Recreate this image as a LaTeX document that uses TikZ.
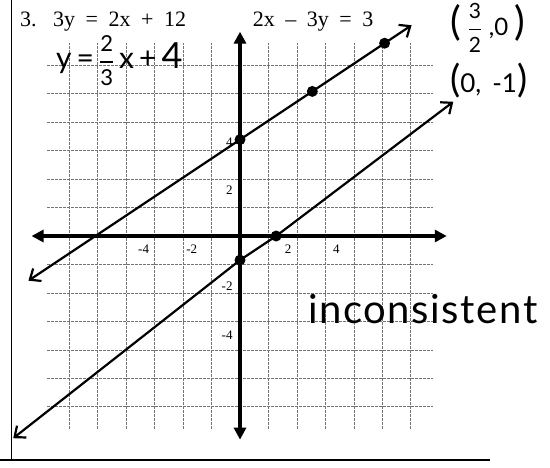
\documentclass[tikz,border=0pt]{standalone}
\usepackage{fontspec}
\setmainfont{Liberation Serif}
\newfontfamily\handfont{Lato}
\usetikzlibrary{arrows.meta}
\newcommand{\hw}[1]{\handfont\fontsize{#1}{#1}\selectfont}
\newcommand{\widesp}{\spaceskip=10.5pt\relax}

\begin{document}
\begin{tikzpicture}[x=24.1pt, y=24.1pt,
    gridline/.style={black!55, line width=0.6pt, dash pattern=on 2.5pt off 1.5pt},
    axisline/.style={line width=3.6pt, {Triangle[length=12pt,width=12pt]}-{Triangle[length=12pt,width=12pt]}},
    graphline/.style={line width=2.2pt, {Straight Barb[length=9pt,width=15pt]}-{Straight Barb[length=9pt,width=15pt]}},
    dot/.style={circle, fill, inner sep=0pt, minimum size=11pt},
    tick/.style={font=\fontsize{13}{13}\selectfont, inner sep=0pt},
    eqn/.style={font=\fontsize{22}{24}\selectfont, inner sep=0pt, anchor=base west},
    hand/.style={inner sep=0pt}]
      \useasboundingbox (-9.959,-9.585) rectangle (12.863,9.793);
      \draw[line width=1.2pt] (-9.473,9.793) -- (-9.473,-9.295);
      \draw[line width=2pt] (-9.959,-9.295) -- (10.373,-9.295);
      \draw[gridline] (-8,-8) grid (8,8);
      \coordinate (xl) at (-8.65,0);
      \coordinate (xr) at (8.58,0);
      \coordinate (yb) at (0,-8.45);
      \coordinate (yt) at (0,8.48);
      \draw[axisline] (xl) -- (xr);
      \draw[axisline] (yb) -- (yt);
      \foreach \v in {-4,-2,2,4} {
        \node[tick] (tx\v) at (\v,-0.54) {\v};
        \node[tick, anchor=east] (ty\v) at (-0.3,\v-0.1) {\v};
      }
      \node[dot] (A) at (0,4) {};
      \node[dot] (B) at (3,6) {};
      \node[dot] (C) at (6,8) {};
      \node[dot] (D) at (0,-1) {};
      \node[dot] (E) at (1.5,0) {};
      \coordinate (L1a) at (-8.78,-1.853);
      \coordinate (L1b) at (7.12,8.747);
      \coordinate (L2a) at (-9.41,-8.39);
      \coordinate (L2b) at (8.85,5.57);
      \draw[graphline] (L1a) -- (A.center) -- (B.center) -- (C.center) -- (L1b);
      \draw[graphline] (L2a) -- (D.center) -- (E.center) -- (L2b);
      \node[eqn] (T1) at (-9.129,8.685) {\widesp 3.\hspace{16.5pt}3y = 2x + 12};
      \node[eqn] (T2) at (0.527,8.685) {\widesp 2x -- 3y = 3};
      \node[hand, anchor=base west] (H) at (-7.635,6.971)
        {\hw{30}y\,=\,$\displaystyle{\hbox{\hw{22}2}\above1.5pt\hbox{\hw{22}3}}$\,x\,+\,{\hw{36}4}};
      \node[hand, anchor=west] (P1) at (8.714,8.62)
        {\hw{40}(\,$\displaystyle{\hbox{\hw{21}3}\above1.5pt\hbox{\hw{21}2}}$\,{\hw{24},0}\,)};
      \node[hand, anchor=west] (P2) at (8.714,6.45)
        {\hw{38}({\hw{26}0,\ \,-1})};
      \node[hand, anchor=base west] (I) at (2.82,-3.61)
        {\hw{40}\addfontfeature{LetterSpace=4}inconsistent};
    \end{tikzpicture}
\end{document}
